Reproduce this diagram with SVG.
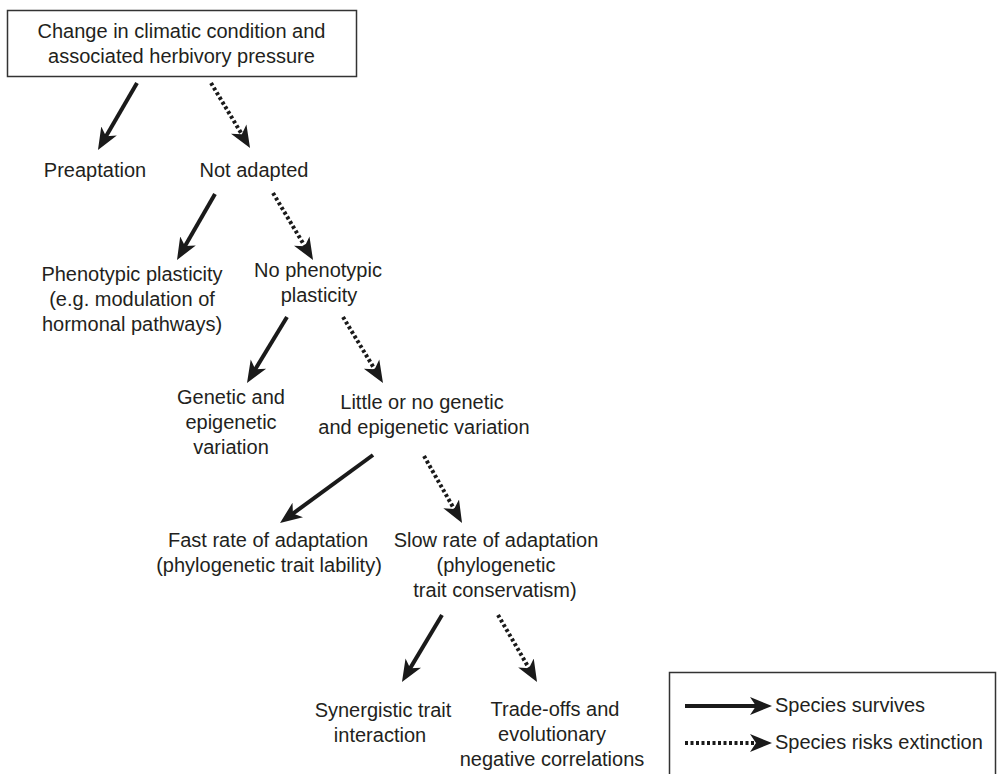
<svg xmlns="http://www.w3.org/2000/svg" width="998" height="774" viewBox="0 0 998 774">
<defs>
<style>
text{font-family:"Liberation Sans",Arial,Helvetica,sans-serif;font-size:20px;fill:#231f20;text-anchor:middle}
.lg{text-anchor:start}
.box{fill:#fff;stroke:#333;stroke-width:1.5}
.s{stroke:#1a1a1a;stroke-width:4;fill:none;marker-end:url(#ah)}
.d{stroke:#1a1a1a;stroke-width:4;fill:none;stroke-dasharray:3 2.5;marker-end:url(#ah)}
</style>
<marker id="ah" markerUnits="userSpaceOnUse" markerWidth="24" markerHeight="20" viewBox="0 -10 24 20" refX="12" refY="0" orient="auto">
<path d="M0,-9 L22,0 L0,9 L6,0 Z" fill="#1a1a1a"/>
</marker>
</defs>
<rect width="998" height="774" fill="#fff"/>
<g id="n-top">
<rect class="box" x="7.5" y="10.5" width="349" height="66"/>
<text x="181.5" y="38">Change in climatic condition and</text>
<text x="181.5" y="63">associated herbivory pressure</text>
</g>
<g id="n-preaptation"><text x="95" y="177">Preaptation</text></g>
<g id="n-notadapted"><text x="254" y="177">Not adapted</text></g>
<g id="n-phenotypic">
<text x="132" y="281">Phenotypic plasticity</text>
<text x="132" y="306">(e.g. modulation of</text>
<text x="132" y="331">hormonal pathways)</text>
</g>
<g id="n-nophenotypic">
<text x="318" y="277">No phenotypic</text>
<text x="319" y="302">plasticity</text>
</g>
<g id="n-genetic">
<text x="231" y="404">Genetic and</text>
<text x="231" y="429">epigenetic</text>
<text x="231" y="454">variation</text>
</g>
<g id="n-little">
<text x="422" y="409">Little or no genetic</text>
<text x="424" y="434">and epigenetic variation</text>
</g>
<g id="n-fast">
<text x="268" y="547">Fast rate of adaptation</text>
<text x="269" y="572">(phylogenetic trait lability)</text>
</g>
<g id="n-slow">
<text x="496" y="547">Slow rate of adaptation</text>
<text x="496" y="572">(phylogenetic</text>
<text x="495" y="597">trait conservatism)</text>
</g>
<g id="n-synergistic">
<text x="383" y="717">Synergistic trait</text>
<text x="380" y="742">interaction</text>
</g>
<g id="n-tradeoffs">
<text x="555" y="716">Trade-offs and</text>
<text x="552" y="741">evolutionary</text>
<text x="552" y="766">negative correlations</text>
</g>
<g id="connectors">
<line class="s" x1="137" y1="83" x2="103" y2="141.4"/>
<line class="d" x1="211" y1="83" x2="244.9" y2="139.4"/>
<line class="s" x1="215" y1="194" x2="182" y2="251.3"/>
<line class="d" x1="273" y1="193" x2="307.9" y2="251.4"/>
<line class="s" x1="287" y1="317" x2="252.2" y2="374.4"/>
<line class="d" x1="343" y1="317" x2="377.8" y2="374.4"/>
<line class="s" x1="373" y1="455" x2="288.1" y2="517.1"/>
<line class="d" x1="424" y1="456" x2="457.1" y2="514.3"/>
<line class="s" x1="442" y1="615" x2="407.1" y2="673.4"/>
<line class="d" x1="498" y1="615" x2="532" y2="673.4"/>
</g>
<g id="legend">
<rect class="box" x="669.5" y="672.5" width="326" height="110"/>
<line class="s" x1="685" y1="706" x2="762" y2="706"/>
<text class="lg" x="775" y="712">Species survives</text>
<line class="d" x1="685" y1="743" x2="762" y2="743"/>
<text class="lg" x="775" y="749">Species risks extinction</text>
</g>
</svg>
